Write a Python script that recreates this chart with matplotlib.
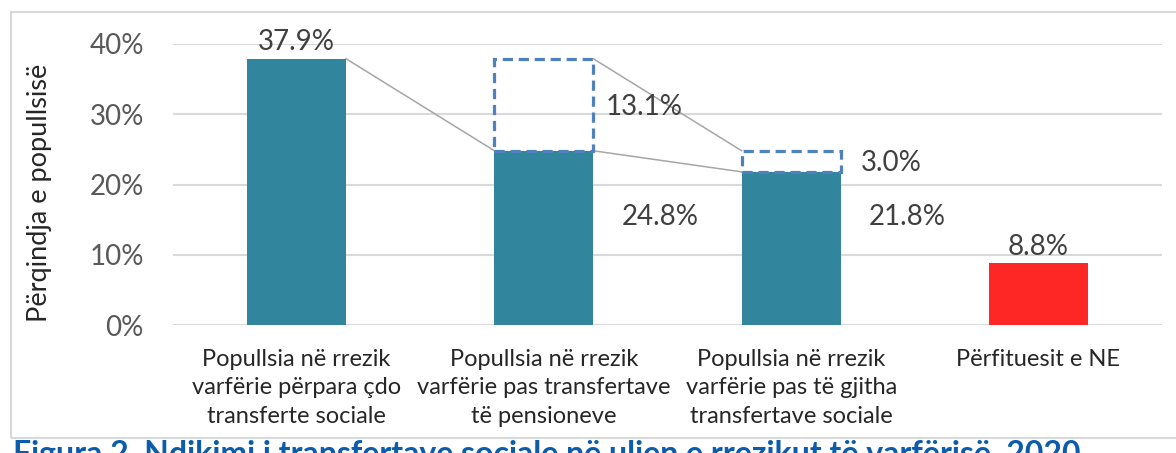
import numpy as np
import matplotlib.pyplot as plt
from matplotlib.patches import Rectangle

# data
categories = ["Popullsia në rrezik\nvarfërie përpara çdo\ntransferte sociale",
              "Popullsia në rrezik\nvarfërie pas transfertave\ntë pensioneve",
              "Popullsia në rrezik\nvarfërie pas të gjitha\ntransfertave sociale",
              "Përfituesit e NE"]
values = [37.9, 24.8, 21.8, 8.8]
reductions = [0.0, 13.1, 3.0, 0.0]
yticks = [0, 10, 20, 30, 40]
ylabel = "Përqindja e popullsisë"
title = "Figura 2. Ndikimi i transfertave sociale në uljen e rrezikut të varfërisë, 2020"

plt.rcParams['font.family'] = ['Lato', 'DejaVu Sans']

teal = '#31859C'
red = '#FF2626'
blue = '#4F81BD'
W, H = 1176, 453

fig = plt.figure(figsize=(W / 100, H / 100), dpi=100)
ax = fig.add_axes([173 / W, 1 - 325 / H, (1162 - 173) / W, (325 - 44) / H])

x = np.arange(len(categories))
w = 0.4
colors = [teal, teal, teal, red]
ax.bar(x, values, width=w, color=colors, zorder=3)

# dashed boxes for the reductions
for i in range(len(x)):
    if reductions[i] > 0:
        ax.bar(x[i], reductions[i], bottom=values[i], width=w, fill=False,
               edgecolor=blue, linewidth=2.3, linestyle=(0, (3.2, 1.8)), zorder=4)

tops = [v + r for v, r in zip(values, reductions)]
line_kw = dict(color='#A6A6A6', lw=1.1, zorder=2)
ax.plot([x[0] + w / 2, x[1] - w / 2], [values[0], values[1]], **line_kw)
ax.plot([x[1] + w / 2, x[2] - w / 2], [tops[1], tops[2]], **line_kw)
ax.plot([x[1] + w / 2, x[2] - w / 2], [values[1], values[2]], **line_kw)

lab_kw = dict(fontsize=20, color='#404040')
# labels above single bars
for i in (0, 3):
    ax.text(x[i], values[i] + 0.5, f"{values[i]:.1f}%", ha='center', va='bottom', **lab_kw)
# labels beside the reduced bars
for i in (1, 2):
    ax.text(x[i] + 0.47, 15.4, f"{values[i]:.1f}%", ha='center', va='center', **lab_kw)
    ax.text(x[i] + 0.405, values[i] + reductions[i] / 2 - 0.3,
            f"{reductions[i]:.1f}%", ha='center', va='center', **lab_kw)

ax.set_xlim(-0.5, 3.5)
ax.set_ylim(0, 40)
ax.set_yticks(yticks)
ax.set_yticklabels([f"{t}%" for t in yticks], fontsize=20, color='#595959')
ax.set_xticks(x)
ax.set_xticklabels(categories, fontsize=17, color='#262626', linespacing=1.45)
ax.tick_params(axis='both', length=0)
ax.tick_params(axis='y', pad=21)
ax.tick_params(axis='x', pad=17)
ax.yaxis.grid(True, color='#D9D9D9', lw=1.5, zorder=0)
ax.set_axisbelow(True)
for s in ax.spines.values():
    s.set_visible(False)

fig.text(40 / W, 1 - 193 / H, ylabel, rotation=90, ha='center', va='center',
         fontsize=19.5, color='#262626')

# outer frame
fig.patches.append(Rectangle((11 / W, 1 - 438 / H), 1.2, (438 - 12) / H,
                             transform=fig.transFigure, fill=False,
                             edgecolor='#D9D9D9', lw=1.5, clip_on=False))

fig.text(13 / W, 1 - 440 / H, title, ha='left', va='top', fontsize=23,
         fontweight='bold', color='#0B5CAD')

fig.savefig('out.png', dpi=100)
